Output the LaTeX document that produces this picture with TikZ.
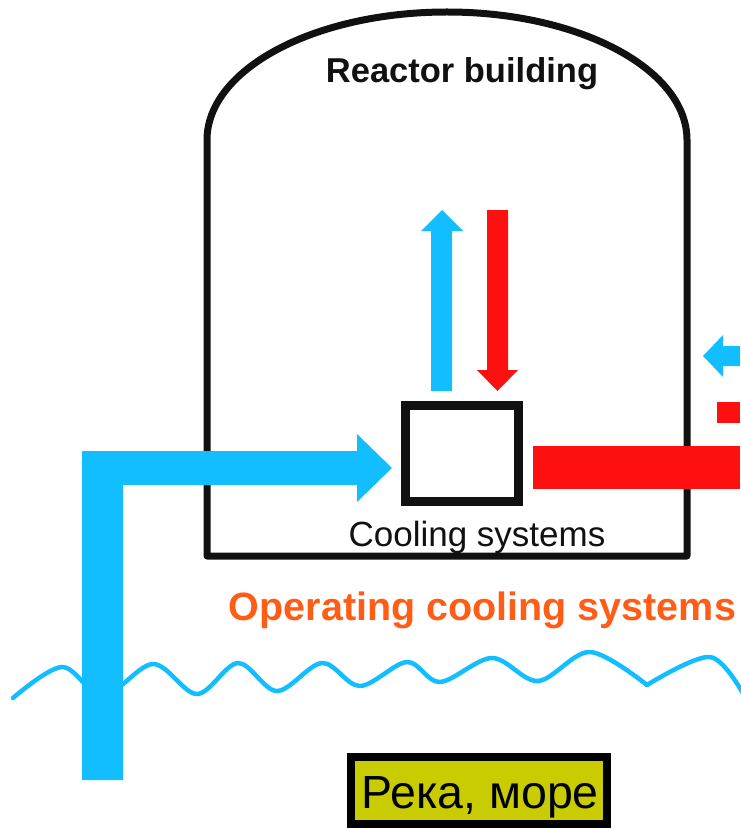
\documentclass[tikz,border=0pt]{standalone}
\usepackage{fontspec}
\setmainfont{Liberation Sans}
\definecolor{wblue}{RGB}{18,190,255}
\definecolor{wred}{RGB}{255,16,16}
\definecolor{worange}{RGB}{255,92,22}
\definecolor{wyellow}{RGB}{200,204,0}
\definecolor{wdark}{RGB}{17,17,17}
\begin{document}
\begin{tikzpicture}[x=1pt,y=-1pt,
  wall/.style={draw=wdark,line width=7pt,line join=round},
  water/.style={draw=wblue,line width=4.5pt,line cap=round,line join=round},
  cold/.style={fill=wblue},
  hot/.style={fill=wred},
  lbl/.style={anchor=base,inner sep=0pt}]
\useasboundingbox (0,0) rectangle (740,829);
% water surface
\draw[water] plot[smooth,tension=0.55] coordinates {(13,698) (62,667) (103,696) (153,664) (197,694) (238,663) (277,691) (322,663) (360,686) (407,662) (440,682) (492,658) (538,681) (590,652) (647,685)};
\draw[water] plot[smooth,tension=0.55] coordinates {(647,685) (710,657) (745,697)};
% reactor building
\draw[wall] (207,556) -- (207,140) .. controls (207,69.3) and (314.4,12) .. (447,12) .. controls (579.6,12) and (687,69.3) .. (687,140) -- (687,556) -- cycle;
\node[lbl,font=\fontsize{34.5}{40}\selectfont\bfseries,text=wdark] (rb) at (462,83) {Reactor building};
% cooling system box
\node[draw=wdark,line width=8.5pt,minimum width=113pt,minimum height=96pt,inner sep=0pt] (cs) at (462,453.5) {};
\node[lbl,font=\fontsize{35}{40}\selectfont,text=wdark] (cst) at (477,546) {Cooling systems};
% arrows
\fill[cold] (431,391) -- (431,231) -- (421,231) -- (442,210) -- (463,231) -- (452,231) -- (452,391) -- cycle;
\fill[hot] (487,210) -- (508,210) -- (508,370) -- (518,370) -- (497.5,391) -- (477,370) -- (487,370) -- cycle;
\fill[cold] (82,780) -- (82,451) -- (357,451) -- (357,434) -- (392,468) -- (357,502) -- (357,485) -- (123,485) -- (123,780) -- cycle;
\fill[hot] (533,446) rectangle (740,489);
\fill[cold] (740,346) -- (723,346) -- (723,335) -- (703,356) -- (723,377) -- (723,366) -- (740,366) -- cycle;
\fill[hot] (717,402) rectangle (740,423);
% labels
\node[lbl,font=\fontsize{39.5}{44}\selectfont\bfseries,text=worange] (ocs) at (482.5,620) {Operating cooling systems};
\node[draw=black,line width=8pt,fill=wyellow,minimum width=256pt,minimum height=67pt,inner sep=0pt] (rm) at (479,790.5) {};
\node[lbl,font=\fontsize{46.5}{50}\selectfont,text=black] (rmt) at (480,808) {Река, море};
\end{tikzpicture}
\end{document}
